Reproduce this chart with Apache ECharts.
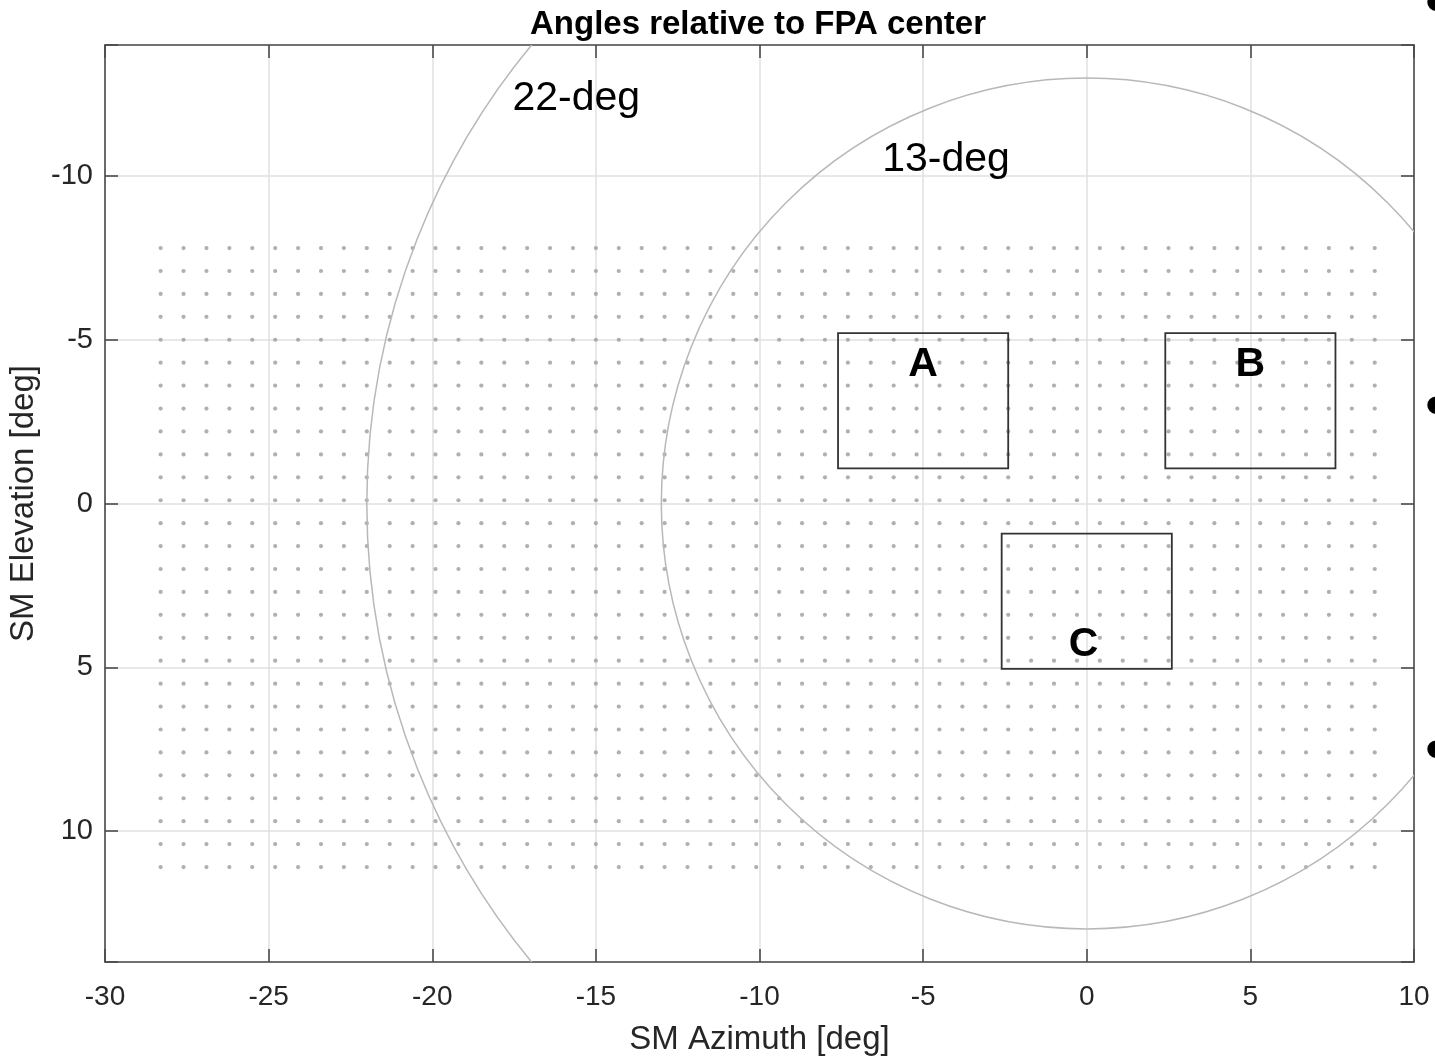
<!DOCTYPE html>
<html>
<head>
<meta charset="utf-8">
<script src="https://cdn.jsdelivr.net/npm/echarts@6/dist/echarts.min.js"></script>
<style>
html,body{margin:0;padding:0;background:#ffffff;}
#chart{width:1435px;height:1059px;}
</style>
</head>
<body>
<div id="chart"></div>
<script>
// ---- data ----
const dotAzimuth = [-28.3, -27.6, -26.9, -26.2, -25.5, -24.8, -24.1, -23.4, -22.7, -22.0,
  -21.3, -20.6, -19.9, -19.2, -18.5, -17.8, -17.1, -16.4, -15.7, -15.0,
  -14.3, -13.6, -12.9, -12.2, -11.5, -10.8, -10.1, -9.4, -8.7, -8.0,
  -7.3, -6.6, -5.9, -5.2, -4.5, -3.8, -3.1, -2.4, -1.7, -1.0,
  -0.3, 0.4, 1.1, 1.8, 2.5, 3.2, 3.9, 4.6, 5.3, 6.0, 6.7, 7.4, 8.1, 8.8];
const dotElevation = [-7.8, -7.1, -6.4, -5.7, -5.0, -4.3, -3.6, -2.9, -2.2, -1.5,
  -0.8, -0.1, 0.6, 1.3, 2.0, 2.7, 3.4, 4.1, 4.8, 5.5,
  6.2, 6.9, 7.6, 8.3, 9.0, 9.7, 10.4, 11.1];

const circleRadii = [22, 13];
const circleLabels = ['22-deg', '13-deg'];
const circleLabelAz = [-15.6, -4.3];
const circleLabelEl = [-12.35, -10.5];

const boxNames = ['A', 'B', 'C'];
const boxAzMin = [-7.6, 2.4, -2.6];
const boxAzMax = [-2.4, 7.6, 2.6];
const boxElMin = [-5.2, -5.2, 0.92];
const boxElMax = [-1.07, -1.07, 5.05];
const boxLabelAz = [-5.0, 5.0, -0.1];
const boxLabelEl = [-4.25, -4.25, 4.3];

const xTickMin = -30, xTickMax = 10, xTickStep = 5;
const yMin = -14, yMax = 14;

// ---- build series tables ----
const dotData = [];
dotElevation.forEach(function (el) {
  dotAzimuth.forEach(function (az) { dotData.push([az, el]); });
});
const circleData = circleRadii.map(function (r) { return [0, 0, r]; });
const boxData = boxNames.map(function (n, i) { return [boxAzMin[i], boxElMin[i], boxAzMax[i], boxElMax[i]]; });
const circleLabelData = circleLabels.map(function (t, i) { return [circleLabelAz[i], circleLabelEl[i]]; });
const boxLabelData = boxNames.map(function (t, i) { return [boxLabelAz[i], boxLabelEl[i]]; });

const FONT = 'Liberation Sans, Arial, Helvetica, sans-serif';
const axisColor = '#4a4a4a';
const gridColor = '#e0e0e0';

const baseAxis = {
  type: 'value',
  axisLine: { show: true, onZero: false, lineStyle: { color: axisColor, width: 1.6 } },
  axisTick: { show: true, inside: true, length: 13, lineStyle: { color: axisColor, width: 1.6 } }
};

const bulletStyle = { text: '•', fontSize: 64, fontFamily: FONT, fill: '#000', align: 'center', verticalAlign: 'middle', textAlign: 'center', textVerticalAlign: 'middle' };

const chart = echarts.init(document.getElementById('chart'), null, { renderer: 'canvas' });
chart.setOption({
  animation: false,
  backgroundColor: '#ffffff',
  title: {
    text: 'Angles relative to FPA center',
    left: 758, top: 8, padding: 0, textAlign: 'center',
    textStyle: { fontFamily: FONT, fontSize: 33, fontWeight: 'bold', color: '#000000' }
  },
  grid: { left: 105, right: 21, top: 45, bottom: 97, containLabel: false, outerBoundsMode: 'none' },
  xAxis: [
    Object.assign({}, baseAxis, {
      min: xTickMin, max: xTickMax, interval: xTickStep, position: 'bottom',
      name: 'SM Azimuth [deg]', nameLocation: 'middle', nameGap: 61,
      nameTextStyle: { fontFamily: FONT, fontSize: 33, color: '#262626' },
      axisLabel: { fontFamily: FONT, fontSize: 28, color: '#262626', margin: 21 },
      splitLine: { show: true, lineStyle: { color: gridColor, width: 1.5 } }
    }),
    Object.assign({}, baseAxis, {
      min: xTickMin, max: xTickMax, interval: xTickStep, position: 'top',
      axisLabel: { show: false }, splitLine: { show: false }
    })
  ],
  yAxis: [
    Object.assign({}, baseAxis, {
      min: yMin, max: yMax, inverse: true, position: 'left',
      name: 'SM Elevation [deg]', nameLocation: 'middle', nameGap: 59,
      nameTextStyle: { fontFamily: FONT, fontSize: 33, color: '#262626' },
      axisLabel: {
        fontFamily: FONT, fontSize: 29, color: '#262626', margin: 12,
        formatter: function (v) { return (Math.abs(v % 5) < 1e-9) ? String(v) : ''; }
      },
      splitLine: { show: true, lineStyle: { color: gridColor, width: 1.5 } }
    }),
    Object.assign({}, baseAxis, {
      min: yMin, max: yMax, inverse: true, position: 'right',
      axisLabel: { show: false }, splitLine: { show: false }
    })
  ],
  graphic: [
    { type: 'text', x: 1436, y: 6, silent: true, style: Object.assign({}, bulletStyle) },
    { type: 'text', x: 1436, y: 409, silent: true, style: Object.assign({}, bulletStyle) },
    { type: 'text', x: 1436, y: 753, silent: true, style: Object.assign({}, bulletStyle) }
  ],
  series: [
    {
      name: 'grid points', type: 'scatter', xAxisIndex: 0, yAxisIndex: 0,
      data: dotData, symbol: 'circle', symbolSize: 4.2, silent: true,
      itemStyle: { color: '#9c9c9c' }, z: 2
    },
    {
      name: 'circles', type: 'custom', xAxisIndex: 0, yAxisIndex: 0, clip: true, silent: true, z: 3,
      data: circleData, encode: { x: 0, y: 1 },
      renderItem: function (params, api) {
        const c = api.coord([api.value(0), api.value(1)]);
        const r = api.size([api.value(2), 0])[0];
        return { type: 'circle', shape: { cx: c[0], cy: c[1], r: r },
          style: { fill: 'none', stroke: '#b8b8b8', lineWidth: 1.5 } };
      }
    },
    {
      name: 'boxes', type: 'custom', xAxisIndex: 0, yAxisIndex: 0, clip: true, silent: true, z: 4,
      data: boxData, encode: { x: [0, 2], y: [1, 3] },
      renderItem: function (params, api) {
        const p0 = api.coord([api.value(0), api.value(1)]);
        const p1 = api.coord([api.value(2), api.value(3)]);
        return { type: 'rect',
          shape: { x: Math.min(p0[0], p1[0]), y: Math.min(p0[1], p1[1]), width: Math.abs(p1[0] - p0[0]), height: Math.abs(p1[1] - p0[1]) },
          style: { fill: 'none', stroke: '#333333', lineWidth: 1.8 } };
      }
    },
    {
      name: 'circle labels', type: 'custom', xAxisIndex: 0, yAxisIndex: 0, silent: true, z: 5,
      data: circleLabelData, encode: { x: 0, y: 1 },
      renderItem: function (params, api) {
        const p = api.coord([api.value(0), api.value(1)]);
        return { type: 'text', x: p[0], y: p[1],
          style: { text: circleLabels[params.dataIndex], fontSize: 41, fontFamily: FONT, fill: '#000000', align: 'center', verticalAlign: 'middle' } };
      }
    },
    {
      name: 'box labels', type: 'custom', xAxisIndex: 0, yAxisIndex: 0, silent: true, z: 5,
      data: boxLabelData, encode: { x: 0, y: 1 },
      renderItem: function (params, api) {
        const p = api.coord([api.value(0), api.value(1)]);
        return { type: 'text', x: p[0], y: p[1],
          style: { text: boxNames[params.dataIndex], fontSize: 41, fontWeight: 'bold', fontFamily: FONT, fill: '#000000', align: 'center', verticalAlign: 'middle' } };
      }
    }
  ]
});
</script>
</body>
</html>
